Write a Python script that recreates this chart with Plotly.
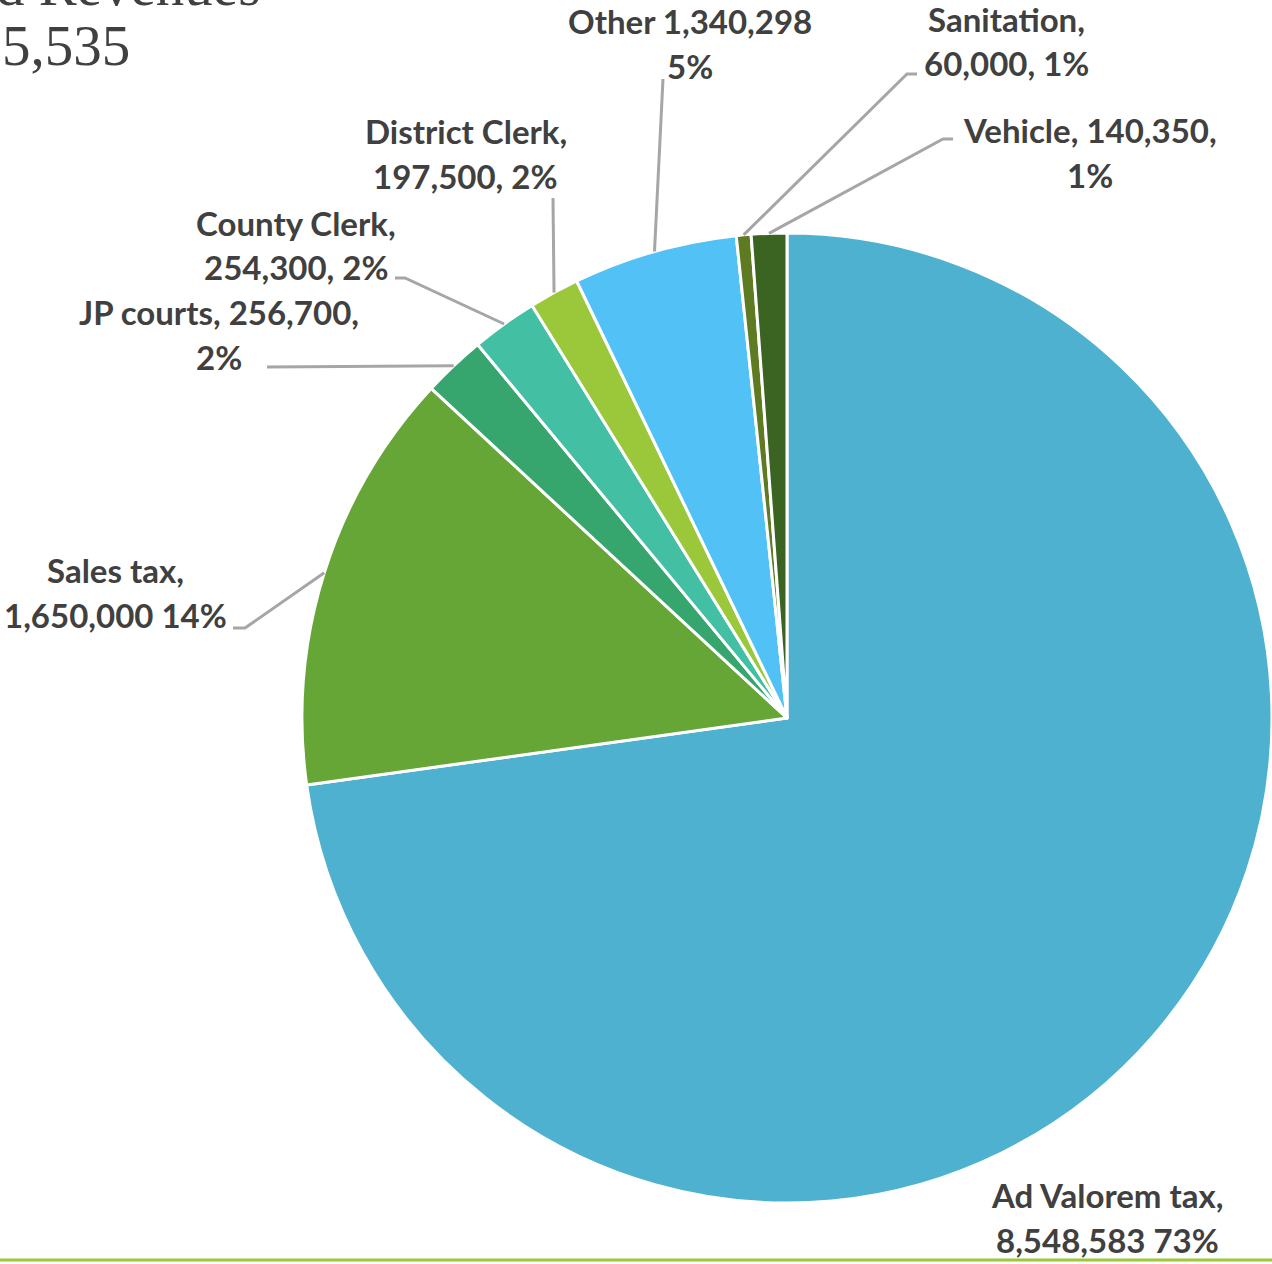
import math
import plotly.graph_objects as go

W, H = 1272, 1264

# ---------------- data ----------------
categories = ["Ad Valorem tax", "Sales tax", "JP courts", "County Clerk",
              "District Clerk", "Other", "Sanitation", "Vehicle"]
amounts = [8548583, 1650000, 256700, 254300, 197500, 1340298, 60000, 140350]
# slice sizes as drawn in the picture (percent of the circle)
shares = [72.8, 14.1, 2.1, 2.2, 1.67, 5.47, 0.49, 1.18]
pct_labels = ["73%", "14%", "2%", "2%", "2%", "5%", "1%", "1%"]
templates = ["{n},<br>{a} {p}", "{n},<br>{a} {p}", "{n}, {a},<br>{p}",
             "{n},<br>{a}, {p}", "{n},<br>{a}, {p}", "{n} {a}<br>{p}",
             "{n},<br>{a}, {p}", "{n}, {a},<br>{p}"]
colors = ["#4FB1D0", "#65A637", "#37A56E", "#43BFA4", "#9AC83A",
          "#52C1F6", "#5E7B22", "#3B6423"]
title_line1 = "d Revenues"
title_line2 = "5,535"

# ---------------- layout helpers (pixels) ----------------
CX, CY, R = 787, 718, 485
LINE_GAP = 45
label_pos = [(1107, 1217), (116, 592), (219, 334), (296, 245),
             (466, 153), (690, 43), (1006, 41), (1090, 152)]
# leader line bend/end points (pixels), starting at slice mid-edge
leader_pts = [
    None,
    [(245, 628), (233, 628)],
    [(267, 367)],
    [(405, 278), (395, 278)],
    [(553, 198)],
    [(663, 79)],
    [(907, 74), (917, 74)],
    [(943, 139), (953, 139)],
]


def px(x):
    return x / W


def py(y):
    return 1 - y / H


fig = go.Figure()
fig.add_trace(go.Pie(
    labels=categories,
    values=shares,
    sort=False,
    direction="clockwise",
    rotation=0,
    textinfo="none",
    hoverinfo="label+value",
    marker=dict(colors=colors, line=dict(color="white", width=3)),
    domain=dict(x=[px(CX - R), px(CX + R)], y=[py(CY + R), py(CY - R)]),
    showlegend=False,
))

total = sum(shares)
cum = 0.0
shapes = []
annotations = []
font = dict(family="Lato, 'Open Sans', sans-serif", size=33, color="#404040")
for i, (n, a, p) in enumerate(zip(categories, amounts, pct_labels)):
    mid = (cum + shares[i] / 2) / total * 2 * math.pi
    cum += shares[i]
    sx = CX + R * math.sin(mid)
    sy = CY - R * math.cos(mid)
    lines = templates[i].format(n=n, a=f"{a:,}", p=p).split("<br>")
    lx, ly = label_pos[i]
    for k, line in enumerate(lines):
        yy = ly + (k - (len(lines) - 1) / 2) * LINE_GAP
        annotations.append(dict(
            x=px(lx), y=py(yy), xref="paper", yref="paper",
            text="<b>" + line + "</b>",
            showarrow=False, xanchor="center", yanchor="middle",
            align="center", font=font,
        ))
    if leader_pts[i]:
        pts = [(sx, sy)] + leader_pts[i]
        path = "M " + " L ".join(f"{px(x)},{py(y)}" for x, y in pts)
        shapes.append(dict(type="path", path=path, xref="paper", yref="paper",
                           line=dict(color="#A6A6A6", width=3)))

# title fragments (cropped at the left/top edge, as in the source slide)
serif = dict(family="'Liberation Serif', 'DejaVu Serif', serif", size=57, color="#404040")
annotations.append(dict(x=px(262), y=py(-15), xref="paper", yref="paper",
                        text=title_line1, showarrow=False, xanchor="right",
                        yanchor="middle", font=serif))
annotations.append(dict(x=px(0), y=py(46), xref="paper", yref="paper",
                        text=title_line2, showarrow=False, xanchor="left",
                        yanchor="middle", font=serif))

# green rule at the bottom
shapes.append(dict(type="line", x0=0, x1=1, y0=py(1260), y1=py(1260),
                   xref="paper", yref="paper",
                   line=dict(color="#9BC83A", width=3)))

fig.update_layout(
    width=W, height=H,
    margin=dict(l=0, r=0, t=0, b=0),
    paper_bgcolor="white", plot_bgcolor="white",
    shapes=shapes, annotations=annotations,
)

fig.write_html("out.html", config={"displayModeBar": False},
               post_script="document.body.style.margin='0';document.body.style.overflow='hidden';")
